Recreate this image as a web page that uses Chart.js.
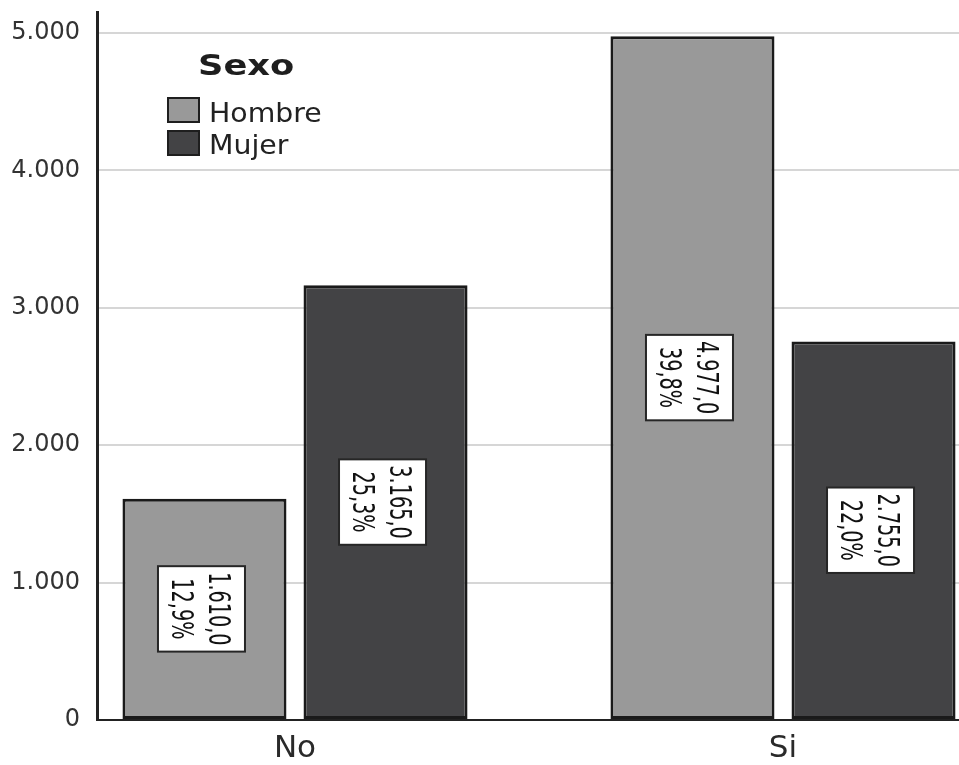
<!DOCTYPE html>
<html>
<head>
<meta charset="utf-8">
<title>Sexo</title>
<script src="https://cdn.jsdelivr.net/npm/chart.js@4.4.0/dist/chart.umd.min.js"></script>
<style>
  html, body { margin: 0; padding: 0; background: #ffffff; }
  #wrap { width: 959px; height: 765px; }
</style>
</head>
<body>
<div id="wrap"><canvas id="chart" width="959" height="765"></canvas></div>
<script>
// Counts per answer, split by sex
const categories = ['No', 'Si'];
const seriesNames = ['Hombre', 'Mujer'];
const hombre = [1610, 4977];
const mujer = [3165, 2755];
const yTicks = [0, 1000, 2000, 3000, 4000, 5000];
const legendTitle = 'Sexo';

const seriesValues = [hombre, mujer];
const seriesFill = ['#999999', '#434345'];
const total = seriesValues.flat().reduce((a, b) => a + b, 0);

// 1234.5 -> "1.234,5"
function fmtEs(n, decimals) {
  const parts = n.toFixed(decimals).split('.');
  const intPart = parts[0].replace(/\B(?=(\d{3})+(?!\d))/g, '.');
  return parts.length > 1 ? intPart + ',' + parts[1] : intPart;
}

// White boxes with count and share, rotated a quarter turn, centred in each bar
const valueBoxes = {
  id: 'valueBoxes',
  afterDatasetsDraw(chart) {
    const ctx = chart.ctx;
    const sx = 0.69;
    chart.data.datasets.forEach((ds, d) => {
      const meta = chart.getDatasetMeta(d);
      meta.data.forEach((bar, i) => {
        const v = ds.data[i].y;
        const line1 = fmtEs(v, 1);
        const line2 = fmtEs(v / total * 100, 1) + '%';
        const cx = bar.x - 3;
        const cy = (bar.y + bar.base) / 2;
        ctx.save();
        ctx.translate(cx, cy);
        ctx.rotate(Math.PI / 2);
        ctx.font = '31px "Liberation Sans Narrow", "DejaVu Sans Condensed", sans-serif';
        const tw = Math.max(ctx.measureText(line1).width, ctx.measureText(line2).width) * sx;
        const len = tw + 12;
        const across = 87;
        ctx.fillStyle = '#ffffff';
        ctx.fillRect(-len / 2, -across / 2, len, across);
        ctx.strokeStyle = '#262626';
        ctx.lineWidth = 2;
        ctx.strokeRect(-len / 2, -across / 2, len, across);
        ctx.fillStyle = '#111111';
        ctx.textAlign = 'center';
        ctx.textBaseline = 'middle';
        ctx.scale(sx, 1);
        ctx.fillText(line1, 0, -16);
        ctx.fillText(line2, 0, 21);
        ctx.restore();
      });
    });
  }
};

// Legend block inside the plot area
const sexLegend = {
  id: 'sexLegend',
  afterDraw(chart) {
    const ctx = chart.ctx;
    ctx.save();
    ctx.fillStyle = '#1e1e1e';
    ctx.textAlign = 'left';
    ctx.textBaseline = 'alphabetic';
    ctx.font = 'bold 28px "DejaVu Sans", sans-serif';
    ctx.save();
    ctx.translate(198, 75);
    ctx.scale(1.26, 1);
    ctx.fillText(legendTitle, 0, 0);
    ctx.restore();

    const rows = [{ boxY: 98, base: 122 }, { boxY: 131, base: 154 }];
    chart.data.datasets.forEach((ds, d) => {
      const r = rows[d];
      ctx.fillStyle = ds.backgroundColor;
      ctx.fillRect(168, r.boxY, 31, 24);
      ctx.strokeStyle = '#1e1e1e';
      ctx.lineWidth = 2;
      ctx.strokeRect(168, r.boxY, 31, 24);
      ctx.fillStyle = '#222222';
      ctx.font = '27px "DejaVu Sans", sans-serif';
      ctx.save();
      ctx.translate(209, r.base);
      ctx.scale(1.05, 1);
      ctx.fillText(ds.label, 0, 0);
      ctx.restore();
    });
    ctx.restore();
  }
};

const datasets = seriesNames.map((name, s) => ({
  label: name,
  data: categories.map((c, i) => ({ x: i, y: seriesValues[s][i] })),
  backgroundColor: seriesFill[s],
  borderColor: '#1a1a1a',
  borderWidth: 3,
  borderSkipped: false,
  categoryPercentage: 0.742,
  barPercentage: 0.906
}));

new Chart(document.getElementById('chart'), {
  type: 'bar',
  data: { datasets },
  plugins: [valueBoxes, sexLegend],
  options: {
    responsive: false,
    animation: false,
    devicePixelRatio: 1,
    layout: { padding: { top: 12, left: 0, right: 0, bottom: 0 } },
    plugins: {
      legend: { display: false },
      tooltip: { enabled: false },
      title: { display: false }
    },
    scales: {
      x: {
        type: 'linear',
        offset: false,
        min: -0.40574,
        max: 1.36066,
        afterBuildTicks(scale) {
          scale.ticks = categories.map((c, i) => ({ value: i }));
        },
        afterFit(scale) {
          scale.height = 45;
          scale.paddingLeft = 0;
          scale.paddingRight = 0;
        },
        grid: { display: false, drawTicks: false, offset: false },
        border: { display: true, color: '#222222', width: 2 },
        ticks: {
          autoSkip: false,
          maxRotation: 0,
          padding: 10,
          color: '#2a2a2a',
          font: { family: '"DejaVu Sans", sans-serif', size: 31 },
          callback: (v) => categories[v] ?? ''
        }
      },
      y: {
        type: 'linear',
        min: 0,
        max: 5153,
        afterBuildTicks(scale) {
          scale.ticks = yTicks.map((v) => ({ value: v }));
        },
        afterFit(scale) {
          scale.width = 97;
          scale.paddingTop = 0;
          scale.paddingBottom = 0;
        },
        grid: { color: '#d6d6d6', lineWidth: 2, drawTicks: false },
        border: { display: true, color: '#222222', width: 3 },
        ticks: {
          padding: 17,
          color: '#333333',
          font: { family: '"DejaVu Sans", sans-serif', size: 24 },
          callback: (v) => fmtEs(v, 0)
        }
      }
    }
  }
});
</script>
</body>
</html>
